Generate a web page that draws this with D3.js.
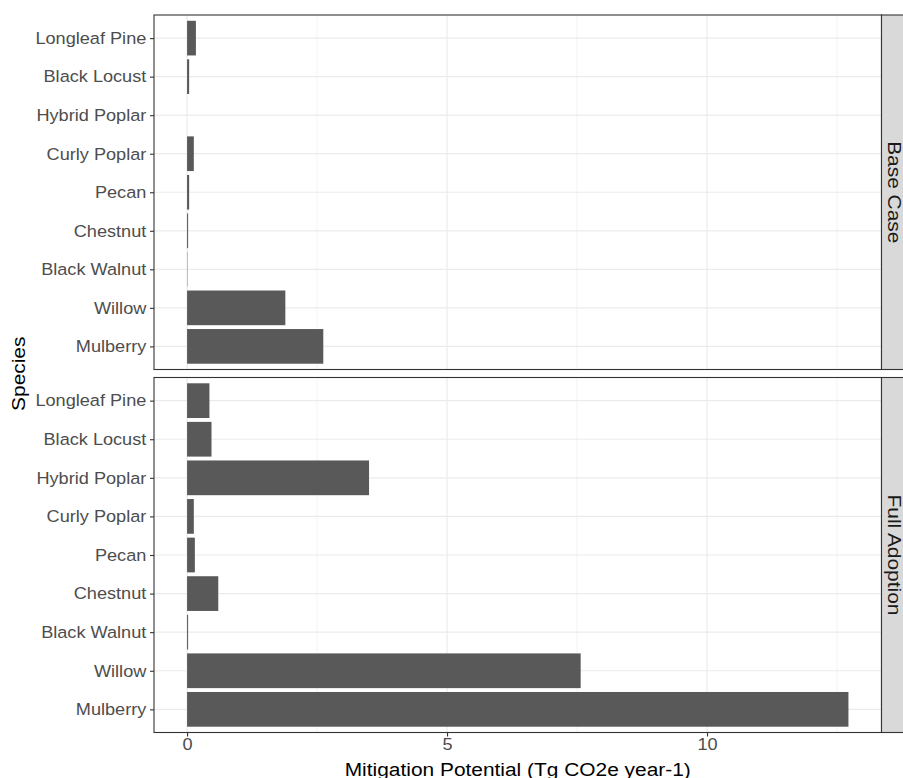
<!DOCTYPE html>
<html>
<head>
<meta charset="utf-8">
<script src="https://cdn.jsdelivr.net/npm/d3@7"></script>
<style>
  html, body { margin: 0; padding: 0; background: #fff; }
  svg { display: block; font-family: "Liberation Sans", Arial, sans-serif; }
</style>
</head>
<body>
<svg id="chart" width="903" height="778"></svg>
<script>
// Species, listed top to bottom in each panel
const species = ["Longleaf Pine", "Black Locust", "Hybrid Poplar", "Curly Poplar",
  "Pecan", "Chestnut", "Black Walnut", "Willow", "Mulberry"];

// Facets
const scenarios = ["Base Case", "Full Adoption"];

// Mitigation potential (Tg CO2e year-1) per species
const baseCase = [0.17, 0.04, 0.0, 0.13, 0.04, 0.02, 0.006, 1.89, 2.62];
const fullAdoption = [0.43, 0.47, 3.50, 0.13, 0.15, 0.60, 0.02, 7.57, 12.72];

const xTicks = [0, 5, 10];
const xMinor = [2.5, 7.5, 12.5];

const svg = d3.select("#chart");

// slightly wide letterforms
const WIDE = "scale(1.1,1)";

const left = 154, right = 881.5;
const panels = [
  { name: scenarios[0], values: baseCase, top: 15, bottom: 369.5 },
  { name: scenarios[1], values: fullAdoption, top: 377.5, bottom: 732.5 }
];

const maxV = d3.max(fullAdoption.concat(baseCase));
const pad = maxV * 0.05;
const x = d3.scaleLinear().domain([-pad, maxV + pad]).range([left, right]);

panels.forEach(p => {
  // discrete scale with 0.6 expansion on both ends
  const n = species.length;
  const step = (p.bottom - p.top) / (n - 1 + 1.2);
  const y = d3.scalePoint().domain(species)
    .range([p.top + 0.6 * step, p.bottom - 0.6 * step]);
  const bh = step * 0.9;

  const g = svg.append("g");

  g.append("rect")
    .attr("x", left).attr("y", p.top)
    .attr("width", right - left).attr("height", p.bottom - p.top)
    .attr("fill", "#fff");

  // minor grid
  g.selectAll(".minor").data(xMinor).join("line")
    .attr("x1", d => x(d)).attr("x2", d => x(d))
    .attr("y1", p.top).attr("y2", p.bottom)
    .attr("stroke", "#EBEBEB").attr("stroke-width", 0.6);

  // major grid
  g.selectAll(".majx").data(xTicks).join("line")
    .attr("x1", d => x(d)).attr("x2", d => x(d))
    .attr("y1", p.top).attr("y2", p.bottom)
    .attr("stroke", "#EBEBEB").attr("stroke-width", 1.2);
  g.selectAll(".majy").data(species).join("line")
    .attr("x1", left).attr("x2", right)
    .attr("y1", d => y(d)).attr("y2", d => y(d))
    .attr("stroke", "#EBEBEB").attr("stroke-width", 1.2);

  // bars
  g.selectAll(".bar").data(species.map((s, i) => ({ s, v: p.values[i] }))).join("rect")
    .attr("x", x(0))
    .attr("y", d => y(d.s) - bh / 2)
    .attr("width", d => Math.max(0, x(d.v) - x(0)))
    .attr("height", bh)
    .attr("fill", "#595959");

  // panel border
  g.append("rect")
    .attr("x", left).attr("y", p.top)
    .attr("width", right - left).attr("height", p.bottom - p.top)
    .attr("fill", "none").attr("stroke", "#333333").attr("stroke-width", 1.1);

  // y axis
  const ya = d3.axisLeft(y).tickSize(4).tickPadding(3);
  const yg = g.append("g").attr("transform", `translate(${left},0)`).call(ya);
  yg.select(".domain").remove();
  yg.selectAll(".tick line").attr("stroke", "#333333").attr("stroke-width", 1.1);
  yg.selectAll(".tick text").attr("fill", "#4D4D4D")
    .attr("transform", WIDE)
    .style("font-size", "16.5px").style("font-family", "'Liberation Sans', Arial, sans-serif");

  // strip
  const sw = 26;
  g.append("rect")
    .attr("x", right).attr("y", p.top)
    .attr("width", sw).attr("height", p.bottom - p.top)
    .attr("fill", "#D9D9D9").attr("stroke", "#333333").attr("stroke-width", 1.1);
  g.append("text")
    .attr("transform", `translate(${right + 6},${(p.top + p.bottom) / 2}) rotate(90) ${WIDE}`)
    .attr("text-anchor", "middle")
    .attr("fill", "#1A1A1A")
    .style("font-size", "19px")
    .text(p.name);

  if (p === panels[1]) {
    const xa = d3.axisBottom(x).tickValues(xTicks).tickSize(4).tickPadding(2);
    const xg = g.append("g").attr("transform", `translate(0,${p.bottom})`).call(xa);
    xg.select(".domain").remove();
    xg.selectAll(".tick line").attr("stroke", "#333333").attr("stroke-width", 1.1);
    xg.selectAll(".tick text").attr("fill", "#4D4D4D")
      .attr("transform", WIDE)
      .style("font-size", "16.5px").style("font-family", "'Liberation Sans', Arial, sans-serif");
  }
});

// axis titles
svg.append("text")
  .attr("transform", `translate(${(left + right) / 2},776) ${WIDE}`)
  .attr("text-anchor", "middle")
  .attr("fill", "#000")
  .style("font-size", "19px")
  .text("Mitigation Potential (Tg CO2e year-1)");

svg.append("text")
  .attr("transform", `translate(25,${(panels[0].top + panels[1].bottom) / 2}) rotate(-90) ${WIDE}`)
  .attr("text-anchor", "middle")
  .attr("fill", "#000")
  .style("font-size", "19px")
  .text("Species");
</script>
</body>
</html>
